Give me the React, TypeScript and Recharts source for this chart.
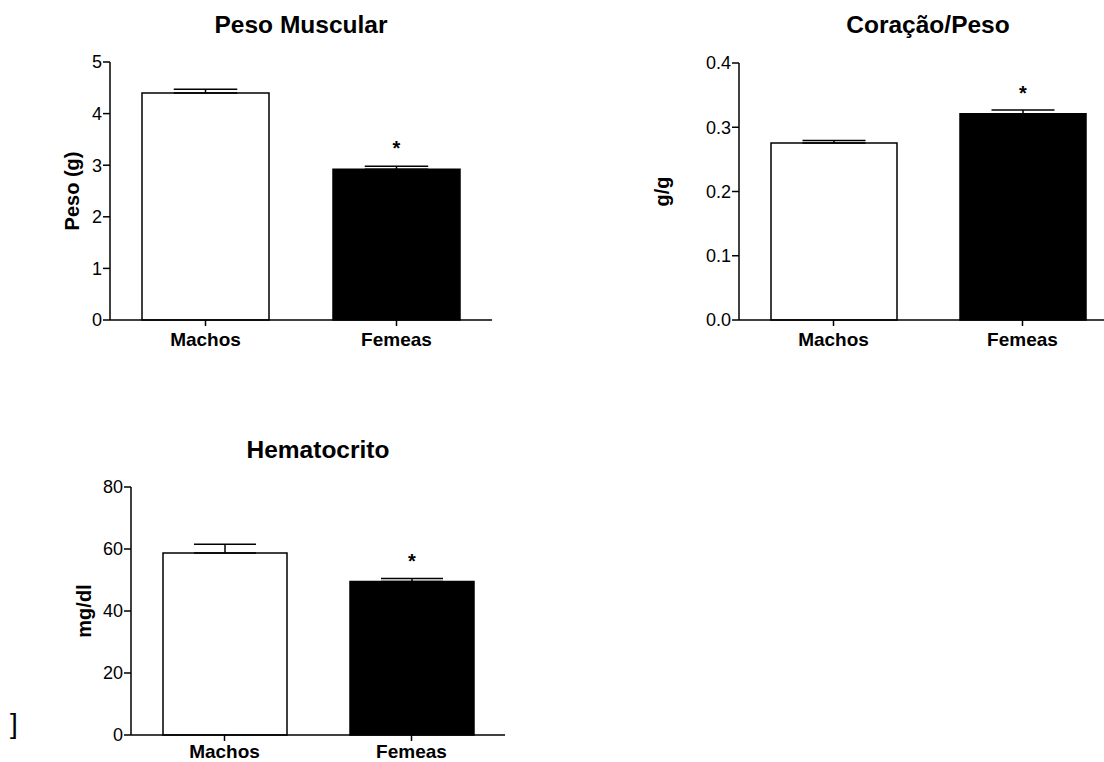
import React from 'react'
import { BarChart, Bar, XAxis, YAxis, ErrorBar, Cell, LabelList, Label } from 'recharts'

const groups = ['Machos', 'Femeas']
const barFills = ['#ffffff', '#000000']
const stars = ['', '*']

// Peso Muscular
const pesoValues = [4.4, 2.92]
const pesoErrors = [0.07, 0.06]
const pesoTicks = [0, 1, 2, 3, 4, 5]

// Coração/Peso
const coracaoValues = [0.2755, 0.321]
const coracaoErrors = [0.004, 0.006]
const coracaoTicks = [0, 0.1, 0.2, 0.3, 0.4]

// Hematocrito
const hemaValues = [58.7, 49.5]
const hemaErrors = [2.8, 1.0]
const hemaTicks = [0, 20, 40, 60, 80]

const FONT = '"Liberation Sans", Arial, Helvetica, sans-serif'

const buildRows = (values: number[], errors: number[]) =>
  groups.map((name, i) => ({ name, value: values[i], err: [0, errors[i]], star: stars[i] }))

const StarLabel = (props: any) => {
  const { x, y, width, value } = props
  if (!value) return null
  return (
    <text x={x + width / 2} y={y - 14} textAnchor="middle" fontFamily={FONT} fontWeight="bold" fontSize={20} fill="#000">
      {value}
    </text>
  )
}

interface PanelProps {
  left: number
  top: number
  width: number
  height: number
  yAxisWidth: number
  margin: { top: number; right: number; bottom: number; left: number }
  title: string
  titleTop: number
  yLabel: string
  yLabelOffset: number
  values: number[]
  errors: number[]
  ticks: number[]
  tickFmt?: (v: number) => string
  barSize: number
  catMargin: number
}

function Panel(p: PanelProps) {
  const rows = buildRows(p.values, p.errors)
  const plotLeft = p.margin.left + p.yAxisWidth
  const plotWidth = p.width - plotLeft - p.margin.right
  return (
    <div style={{ position: 'absolute', left: p.left, top: p.top, width: p.width, height: p.height }}>
      <div
        style={{
          position: 'absolute',
          left: plotLeft,
          width: plotWidth,
          top: p.titleTop,
          textAlign: 'center',
          fontFamily: FONT,
          fontWeight: 'bold',
          fontSize: 24.5,
          lineHeight: '24px',
          color: '#000',
          whiteSpace: 'nowrap'
        }}
      >
        {p.title}
      </div>
      <BarChart width={p.width} height={p.height} data={rows} margin={p.margin} barCategoryGap={0}>
        <XAxis
          dataKey="name"
          axisLine={{ stroke: '#000', strokeWidth: 1.5 }}
          tickLine={{ stroke: '#000', strokeWidth: 1.5 }}
          tickSize={6}
          tickMargin={p.catMargin}
          height={30}
          interval={0}
          tick={{ fill: '#000', fontFamily: FONT, fontWeight: 'bold', fontSize: 19 }}
        />
        <YAxis
          width={p.yAxisWidth}
          domain={[p.ticks[0], p.ticks[p.ticks.length - 1]]}
          ticks={p.ticks}
          interval={0}
          tickFormatter={p.tickFmt}
          axisLine={{ stroke: '#000', strokeWidth: 1.5 }}
          tickLine={{ stroke: '#000', strokeWidth: 1.5 }}
          tickSize={7}
          tickMargin={1}
          tick={{ fill: '#000', fontFamily: FONT, fontSize: 18 }}
        >
          <Label
            content={(lp: any) => {
              const vb = lp.viewBox
              const cx = vb.x + vb.width - p.yLabelOffset
              const cy = vb.y + vb.height / 2
              return (
                <text
                  x={cx}
                  y={cy}
                  transform={`rotate(-90, ${cx}, ${cy})`}
                  textAnchor="middle"
                  fontFamily={FONT}
                  fontWeight="bold"
                  fontSize={20}
                  fill="#000"
                >
                  {p.yLabel}
                </text>
              )
            }}
          />
        </YAxis>
        <Bar dataKey="value" barSize={p.barSize} stroke="#000" strokeWidth={1.5} isAnimationActive={false}>
          {rows.map((r, i) => (
            <Cell key={r.name} fill={barFills[i]} />
          ))}
          <ErrorBar dataKey="err" direction="y" width={p.barSize / 4} stroke="#000" strokeWidth={1.5} isAnimationActive={false} />
          <LabelList dataKey="star" content={StarLabel} />
        </Bar>
      </BarChart>
    </div>
  )
}

export default function App() {
  return (
    <div style={{ position: 'absolute', left: 0, top: 0, width: 1104, height: 762, overflow: 'hidden', background: '#fff' }}>
      <Panel
        left={0}
        top={0}
        width={500}
        height={360}
        yAxisWidth={110}
        margin={{ top: 62, right: 8, bottom: 10, left: 0 }}
        title="Peso Muscular"
        titleTop={13}
        yLabel="Peso (g)"
        yLabelOffset={31}
        values={pesoValues}
        errors={pesoErrors}
        ticks={pesoTicks}
        barSize={127}
        catMargin={7}
      />
      <Panel
        left={620}
        top={0}
        width={500}
        height={360}
        yAxisWidth={119}
        margin={{ top: 63, right: 3, bottom: 10, left: 0 }}
        title="Coração/Peso"
        titleTop={13}
        yLabel="g/g"
        yLabelOffset={70}
        values={coracaoValues}
        errors={coracaoErrors}
        ticks={coracaoTicks}
        tickFmt={(v) => v.toFixed(1)}
        barSize={126}
        catMargin={7}
      />
      <Panel
        left={0}
        top={430}
        width={520}
        height={332}
        yAxisWidth={131}
        margin={{ top: 57, right: 15, bottom: -3, left: 0 }}
        title="Hematocrito"
        titleTop={8}
        yLabel="mg/dl"
        yLabelOffset={40}
        values={hemaValues}
        errors={hemaErrors}
        ticks={hemaTicks}
        barSize={124}
        catMargin={4}
      />
      <div style={{ position: 'absolute', left: 10, top: 708, fontFamily: '"Liberation Sans", sans-serif', fontSize: 28, lineHeight: '32px', color: '#000' }}>
        ]
      </div>
    </div>
  )
}
